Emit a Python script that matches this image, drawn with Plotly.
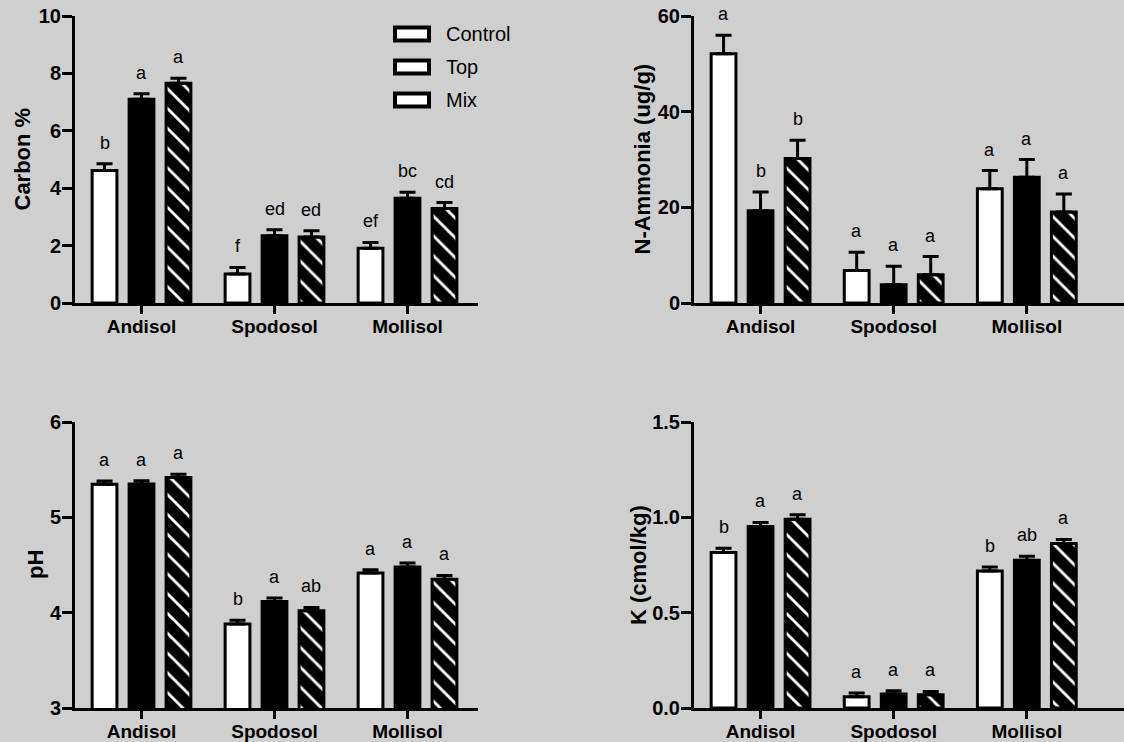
import plotly.graph_objects as go

# ---------------- data ----------------
soils = ["Andisol", "Spodosol", "Mollisol"]
treatments = ["Control", "Top", "Mix"]

carbon_control = [4.62, 1.01, 1.91]
carbon_top = [7.10, 2.34, 3.65]
carbon_mix = [7.66, 2.30, 3.29]
carbon_err_control = [0.23, 0.23, 0.20]
carbon_err_top = [0.19, 0.21, 0.21]
carbon_err_mix = [0.17, 0.22, 0.21]
carbon_letters_control = ["b", "f", "ef"]
carbon_letters_top = ["a", "ed", "bc"]
carbon_letters_mix = ["a", "ed", "cd"]

nh4_control = [52.1, 6.8, 23.9]
nh4_top = [19.3, 3.8, 26.3]
nh4_mix = [30.2, 5.9, 19.0]
nh4_err_control = [3.9, 3.8, 3.8]
nh4_err_top = [3.9, 3.9, 3.7]
nh4_err_mix = [3.8, 3.8, 3.8]
nh4_letters_control = ["a", "a", "a"]
nh4_letters_top = ["b", "a", "a"]
nh4_letters_mix = ["b", "a", "a"]

ph_control = [5.347, 3.88, 4.415]
ph_top = [5.35, 4.118, 4.48]
ph_mix = [5.417, 4.02, 4.35]
ph_err_control = [0.035, 0.04, 0.035]
ph_err_top = [0.035, 0.035, 0.04]
ph_err_mix = [0.035, 0.035, 0.04]
ph_letters_control = ["a", "b", "a"]
ph_letters_top = ["a", "a", "a"]
ph_letters_mix = ["a", "ab", "a"]

k_control = [0.815, 0.059, 0.719]
k_top = [0.952, 0.073, 0.775]
k_mix = [0.990, 0.070, 0.863]
k_err_control = [0.023, 0.02, 0.021]
k_err_top = [0.021, 0.018, 0.021]
k_err_mix = [0.023, 0.017, 0.021]
k_letters_control = ["b", "a", "b"]
k_letters_top = ["a", "a", "ab"]
k_letters_mix = ["a", "a", "a"]

carbon_ticks = [0, 2, 4, 6, 8, 10]
nh4_ticks = [0, 20, 40, 60]
ph_ticks = [3, 4, 5, 6]
k_ticks = [0.0, 0.5, 1.0, 1.5]
k_ticklabels = ["0.0", "0.5", "1.0", "1.5"]

# ---------------- layout constants ----------------
W, H = 1124, 742
FONT = "Arial, 'Liberation Sans', Helvetica, sans-serif"
BG = "#cfcfcf"
BARGAP = 0.166
BARGROUPGAP = 0.33

panels = [
    dict(vals=[carbon_control, carbon_top, carbon_mix],
         errs=[carbon_err_control, carbon_err_top, carbon_err_mix],
         letters=[carbon_letters_control, carbon_letters_top, carbon_letters_mix],
         yrange=[0, 10], ticks=carbon_ticks, ticktext=[str(t) for t in carbon_ticks],
         title="Carbon %", title_x=22, xdom=[75 / W, 478 / W], xrange=[-0.5, 2.53],
         ydom=[(H - 303) / H, (H - 16) / H]),
    dict(vals=[nh4_control, nh4_top, nh4_mix],
         errs=[nh4_err_control, nh4_err_top, nh4_err_mix],
         letters=[nh4_letters_control, nh4_letters_top, nh4_letters_mix],
         yrange=[0, 60], ticks=nh4_ticks, ticktext=[str(t) for t in nh4_ticks],
         title="N-Ammonia (ug/g)", title_x=642, xdom=[694 / W, 1.0], xrange=[-0.5, 2.73],
         ydom=[(H - 303) / H, (H - 16) / H]),
    dict(vals=[ph_control, ph_top, ph_mix],
         errs=[ph_err_control, ph_err_top, ph_err_mix],
         letters=[ph_letters_control, ph_letters_top, ph_letters_mix],
         yrange=[3, 6], ticks=ph_ticks, ticktext=[str(t) for t in ph_ticks],
         title="pH", title_x=35, xdom=[75 / W, 478 / W], xrange=[-0.5, 2.53],
         ydom=[(H - 708) / H, (H - 422) / H]),
    dict(vals=[k_control, k_top, k_mix],
         errs=[k_err_control, k_err_top, k_err_mix],
         letters=[k_letters_control, k_letters_top, k_letters_mix],
         yrange=[0, 1.5], ticks=k_ticks, ticktext=k_ticklabels,
         title="K (cmol/kg)", title_x=638, xdom=[694 / W, 1.0], xrange=[-0.5, 2.73],
         ydom=[(H - 708) / H, (H - 422) / H]),
]


def marker_for(i):
    base = dict(line=dict(color="black", width=3))
    if i == 0:
        base["color"] = "white"
    elif i == 1:
        base["color"] = "black"
    else:
        base["color"] = "black"
        base["pattern"] = dict(shape="\\", fgcolor="white", bgcolor="black",
                               size=14, solidity=0.2, fillmode="replace")
    return base


fig = go.Figure()
annotations = []

for p_idx, p in enumerate(panels):
    suffix = "" if p_idx == 0 else str(p_idx + 1)
    xref = "x" + suffix
    yref = "y" + suffix
    for t_idx, tname in enumerate(treatments):
        fig.add_trace(go.Bar(
            x=soils, y=p["vals"][t_idx], name=tname,
            xaxis=xref, yaxis=yref,
            marker=marker_for(t_idx),
            offsetgroup=str(t_idx),
            error_y=dict(type="data", symmetric=False, array=p["errs"][t_idx],
                         arrayminus=[0] * len(soils), color="black",
                         thickness=3, width=8),
            showlegend=False,
        ))
    # pixel geometry for letter placement (derived from axis scale)
    px_per_unit = (p["xdom"][1] - p["xdom"][0]) * W / (p["xrange"][1] - p["xrange"][0])
    slot = (1 - BARGAP) / 3 * px_per_unit
    for t_idx in range(3):
        for s_idx, soil in enumerate(soils):
            annotations.append(dict(
                x=soil, y=p["vals"][t_idx][s_idx] + p["errs"][t_idx][s_idx],
                xref=xref, yref=yref, text=p["letters"][t_idx][s_idx],
                showarrow=False, xshift=(t_idx - 1) * slot, yshift=9,
                yanchor="bottom", xanchor="center",
                font=dict(family=FONT, size=18, color="black"),
            ))
    # y-axis title (rotated text centred on the axis)
    annotations.append(dict(
        x=p["title_x"] / W, y=(p["ydom"][0] + p["ydom"][1]) / 2,
        xref="paper", yref="paper", text=p["title"], textangle=-90,
        showarrow=False, xanchor="center", yanchor="middle",
        font=dict(family=FONT, size=22, color="black", weight="bold"),
    ))

    axis_x = dict(
        domain=p["xdom"], range=p["xrange"], type="category",
        showline=True, linecolor="black", linewidth=3,
        ticks="outside", ticklen=8, tickwidth=3, tickcolor="black",
        ticklabelstandoff=-4,
        tickfont=dict(family=FONT, size=19, color="black", weight="bold"),
        anchor=yref, showgrid=False, zeroline=False, fixedrange=True,
        automargin=False,
    )
    axis_y = dict(
        domain=p["ydom"], range=p["yrange"],
        tickmode="array", tickvals=p["ticks"], ticktext=p["ticktext"],
        showline=True, linecolor="black", linewidth=3,
        ticks="outside", ticklen=10, tickwidth=3, tickcolor="black",
        ticklabelstandoff=-3,
        tickfont=dict(family=FONT, size=20, color="black", weight="bold"),
        anchor=xref, showgrid=False, zeroline=False, fixedrange=True,
        automargin=False,
    )
    fig.layout["xaxis" + suffix] = axis_x
    fig.layout["yaxis" + suffix] = axis_y

# legend drawn as outlined swatches + real text (as in the reference)
legend_x0, legend_x1 = 395 / W, 429 / W
legend_text_x = 444 / W
legend_rows = [34, 67, 100]
shapes = []
for name, row in zip(treatments, legend_rows):
    yc = (H - row) / H
    shapes.append(dict(type="rect", xref="paper", yref="paper",
                       x0=legend_x0, x1=legend_x1, y0=yc - 6.5 / H, y1=yc + 6.5 / H,
                       line=dict(color="black", width=4), fillcolor="white"))
    annotations.append(dict(x=legend_text_x, y=yc, xref="paper", yref="paper",
                            text=name, showarrow=False, xanchor="left", yanchor="middle",
                            font=dict(family=FONT, size=20, color="black")))

fig.update_layout(
    width=W, height=H,
    margin=dict(l=0, r=0, t=0, b=0),
    paper_bgcolor=BG, plot_bgcolor=BG,
    barmode="group", bargap=BARGAP, bargroupgap=BARGROUPGAP,
    annotations=annotations, shapes=shapes,
    showlegend=False,
    font=dict(family=FONT, color="black"),
)

fig.write_html(
    "out.html",
    config={"displayModeBar": False},
    post_script=(
        "document.body.style.margin='0';"
        "document.body.style.background='" + BG + "';"
        "document.body.style.overflow='hidden';"
    ),
)
